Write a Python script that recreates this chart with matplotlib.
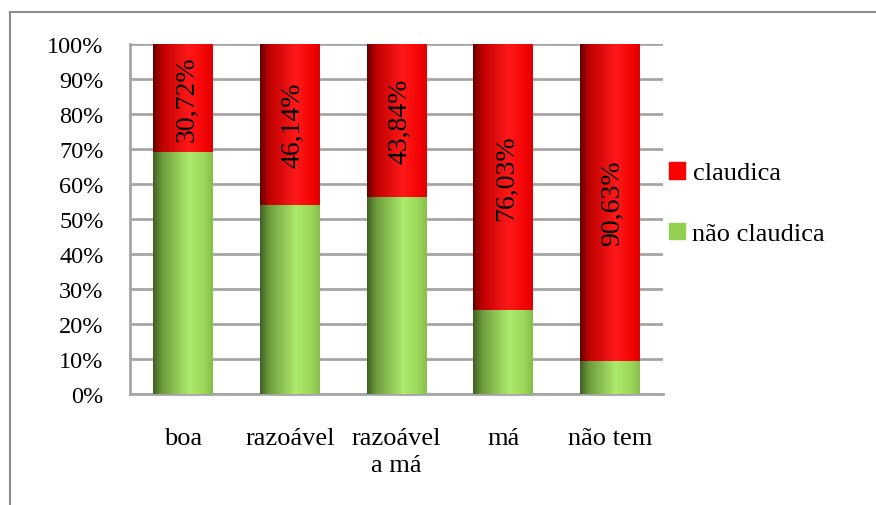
import matplotlib
matplotlib.use('Agg')
import matplotlib.pyplot as plt
from matplotlib.patches import Rectangle
from matplotlib.lines import Line2D
import numpy as np

categories = ['boa', 'razoável', 'razoável\na má', 'má', 'não tem']
claudica = [30.72, 46.14, 43.84, 76.03, 90.63]
nao_claudica = [100 - v for v in claudica]
label_claudica = ['30,72%', '46,14%', '43,84%', '76,03%', '90,63%']
yticks = list(range(0, 101, 10))

plt.rcParams['font.family'] = ['Liberation Serif', 'DejaVu Serif']

fig = plt.figure(figsize=(8.76, 5.06), dpi=100)
ax = fig.add_axes([130/876, 1-395/506, 533/876, 350/506])

# cylinder-like shading for the bars
pos = [0.0, 0.15, 0.6, 0.85, 1.0]
red_stops = np.array([[100, 0, 0], [190, 0, 0], [255, 25, 25], [245, 5, 5], [225, 0, 0]]) / 255
green_stops = np.array([[65, 95, 35], [110, 155, 60], [172, 235, 108], [155, 215, 90], [135, 190, 75]]) / 255

def gradient(stops, n=200):
    t = np.linspace(0, 1, n)
    return np.stack([np.interp(t, pos, stops[:, k]) for k in range(3)], axis=-1)[None, :, :]

red_img = gradient(red_stops)
green_img = gradient(green_stops)

w = 0.56
x = np.arange(len(categories))
for i in range(len(categories)):
    ax.imshow(green_img, extent=[x[i]-w/2, x[i]+w/2, 0, nao_claudica[i]],
              aspect='auto', zorder=3, interpolation='bilinear')
    ax.imshow(red_img, extent=[x[i]-w/2, x[i]+w/2, nao_claudica[i], 100],
              aspect='auto', zorder=3, interpolation='bilinear')
    ax.text(x[i] + 0.03, nao_claudica[i] + claudica[i]/2, label_claudica[i], rotation=90,
            ha='center', va='center', fontsize=20, zorder=4)

ax.set_xlim(-0.5, len(categories) - 0.5)
ax.set_ylim(0, 100)
ax.set_yticks(yticks)
ax.set_yticklabels([f'{v}%' for v in yticks])
ax.set_xticks(x)
ax.set_xticklabels(categories, linespacing=1.3)
ax.tick_params(axis='y', length=0, pad=19, labelsize=17.5)
ax.tick_params(axis='x', length=0, pad=24, labelsize=19)
ax.yaxis.grid(True, color='#a6a6a6', lw=2)
ax.set_axisbelow(True)
for s in ['top', 'right']:
    ax.spines[s].set_visible(False)
for s in ['left', 'bottom']:
    ax.spines[s].set_color('#a6a6a6')
    ax.spines[s].set_linewidth(2)

handles = [Rectangle((0, 0), 1, 1, color='#ff0000'), Rectangle((0, 0), 1, 1, color='#92d050')]
fig.legend(handles, ['claudica', 'não claudica'], loc='upper left',
           bbox_to_anchor=(645/876, 1-139/506), frameon=False, fontsize=19,
           handlelength=0.6, handleheight=0.6, handletextpad=0.3, labelspacing=1.45)

# outer chart frame (only left and top visible)
fig.add_artist(Line2D([10/876, 10/876], [0, 1-13/506], color='#8c8c8c', lw=1.5))
fig.add_artist(Line2D([10/876, 1], [1-13/506, 1-13/506], color='#8c8c8c', lw=1.5))

fig.savefig('out.png', dpi=100)
